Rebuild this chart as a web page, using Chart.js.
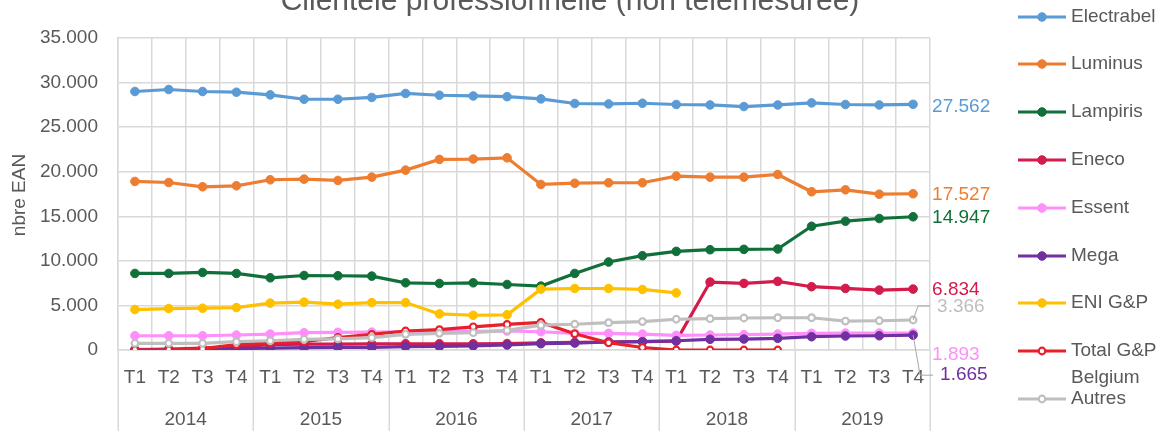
<!DOCTYPE html>
<html>
<head>
<meta charset="utf-8">
<script src="https://cdn.jsdelivr.net/npm/chart.js@4.4.0/dist/chart.umd.min.js"></script>
<style>
html, body { margin: 0; padding: 0; background: #fff; }
#wrap { position: relative; width: 1165px; height: 431px; }
</style>
</head>
<body>
<div id="wrap"><canvas id="chart"></canvas></div>
<script>
const chartTitle = 'Clientèle professionnelle (non télémesurée)';
const yTitle = 'nbre EAN';
const quarters = ['T1','T2','T3','T4','T1','T2','T3','T4','T1','T2','T3','T4',
                  'T1','T2','T3','T4','T1','T2','T3','T4','T1','T2','T3','T4'];
const years = ['2014','2015','2016','2017','2018','2019'];

const electrabel = [29000, 29220, 29000, 28920, 28620, 28130, 28130, 28330, 28780, 28580, 28500, 28420,
                    28170, 27650, 27600, 27680, 27540, 27490, 27310, 27490, 27720, 27540, 27490, 27562];
const luminus = [18910, 18790, 18310, 18420, 19100, 19170, 19020, 19390, 20180, 21380, 21420, 21560,
                 18570, 18710, 18760, 18760, 19500, 19390, 19390, 19690, 17750, 17970, 17480, 17527];
const lampiris = [8590, 8590, 8700, 8590, 8100, 8360, 8330, 8290, 7540, 7460, 7540, 7350,
                  7170, 8590, 9870, 10580, 11060, 11250, 11290, 11330, 13880, 14450, 14750, 14947];
const eneco = [50, 100, 200, 350, 600, 650, 650, 680, 700, 700, 700, 720,
               800, 850, 900, 950, 1000, 7620, 7470, 7700, 7100, 6910, 6720, 6834];
const essent = [1600, 1600, 1600, 1680, 1790, 1940, 1980, 2000, 2050, 2100, 2100, 2130,
                2050, 1870, 1870, 1790, 1640, 1680, 1720, 1790, 1870, 1900, 1900, 1893];
const mega = [0, 0, 50, 150, 220, 260, 300, 300, 370, 400, 450, 560,
              710, 780, 900, 930, 1040, 1200, 1230, 1310, 1490, 1570, 1600, 1665];
const eni = [4540, 4650, 4690, 4760, 5260, 5370, 5140, 5320, 5320, 4050, 3900, 3950,
             6830, 6900, 6900, 6790, 6410, null, null, null, null, null, null, null];
const totalGP = [0, 0, 150, 600, 800, 950, 1400, 1750, 2130, 2280, 2600, 2880,
                 3100, 1820, 820, 280, 0, 0, 0, 0, null, null, null, null];
const autres = [750, 750, 750, 930, 1040, 1200, 1250, 1380, 1760, 1870, 1940, 2200,
                2780, 2890, 3060, 3190, 3450, 3510, 3590, 3620, 3620, 3250, 3280, 3366];

const FONT = '"Liberation Sans", Arial, sans-serif';
const TEXT = '#595959';
const GRID = '#D9D9D9';

function fmt(v) {
    return String(Math.round(v)).replace(/\B(?=(\d{3})+(?!\d))/g, '.');
}

function series(label, data, color, hollow, idx) {
    return {
        label, data,
        borderColor: color,
        backgroundColor: hollow ? '#fff' : color,
        pointBackgroundColor: hollow ? '#fff' : color,
        pointBorderColor: color,
        pointRadius: hollow ? 3.3 : 4.3,
        pointBorderWidth: hollow ? 2.2 : 1,
        borderWidth: 3.2,
        tension: 0,
        order: 20 - idx
    };
}

const datasets = [
    series('Electrabel', electrabel, '#5B9BD5', false, 0),
    series('Luminus', luminus, '#ED7D31', false, 1),
    series('Lampiris', lampiris, '#11703A', false, 2),
    series('Eneco', eneco, '#D31B4C', false, 3),
    series('Essent', essent, '#FF8FFA', false, 4),
    series('Mega', mega, '#7030A0', false, 5),
    series('ENI G&P', eni, '#FFC000', false, 6),
    series('Total G&P Belgium', totalGP, '#E8202A', true, 7),
    series('Autres', autres, '#BFBFBF', true, 8)
];

// end-of-line value labels: dataset index, offsets, optional leader
const endLabels = [
    { ds: 0, dx: 19, dy: 2 },
    { ds: 1, dx: 19, dy: 1 },
    { ds: 2, dx: 19, dy: 1 },
    { ds: 3, dx: 19, dy: 1 },
    { ds: 8, dx: 24, dy: -13, leader: [[5, -14], [17, -14]] },
    { ds: 4, dx: 19, dy: 22 },
    { ds: 5, dx: 27, dy: 40, leader: [[7, 40], [20, 40]] }
];

const overlay = {
    id: 'overlay',
    afterDraw(chart) {
        const { ctx, chartArea: a, scales: { x, y } } = chart;
        const cw = (a.right - a.left) / quarters.length;
        ctx.save();

        // title (partly cut at top)
        ctx.fillStyle = TEXT;
        ctx.font = '30px ' + FONT;
        ctx.textAlign = 'center';
        ctx.textBaseline = 'alphabetic';
        ctx.fillText(chartTitle, 570, 10);

        // y axis title
        ctx.save();
        ctx.translate(20, 195);
        ctx.rotate(-Math.PI / 2);
        ctx.font = '19px ' + FONT;
        ctx.textBaseline = 'middle';
        ctx.fillText(yTitle, 0, 0);
        ctx.restore();

        // year group separators and labels
        ctx.strokeStyle = GRID;
        ctx.lineWidth = 1.5;
        for (let g = 0; g <= years.length; g++) {
            const gx = Math.round(a.left + g * 4 * cw) + 0.25;
            ctx.beginPath();
            ctx.moveTo(gx, a.bottom);
            ctx.lineTo(gx, chart.height);
            ctx.stroke();
        }
        ctx.font = '19px ' + FONT;
        ctx.textBaseline = 'middle';
        ctx.fillStyle = TEXT;
        years.forEach((yr, g) => {
            const cx = (x.getPixelForValue(g * 4) + x.getPixelForValue(g * 4 + 3)) / 2;
            ctx.fillText(yr, cx, 420);
        });

        // end labels
        ctx.textAlign = 'left';
        endLabels.forEach(l => {
            const ds = datasets[l.ds];
            const last = ds.data.length - 1;
            const px = x.getPixelForValue(last);
            const py = y.getPixelForValue(ds.data[last]);
            if (l.leader) {
                ctx.strokeStyle = '#A6A6A6';
                ctx.lineWidth = 1;
                ctx.beginPath();
                ctx.moveTo(px, py);
                l.leader.forEach(p => ctx.lineTo(px + p[0], py + p[1]));
                ctx.stroke();
            }
            ctx.fillStyle = ds.borderColor;
            ctx.fillText(fmt(ds.data[last]), px + l.dx, py + l.dy);
        });

        // legend
        const legendY = [17, 64, 112, 160, 208, 256, 303, 351, 399];
        datasets.forEach((ds, i) => {
            const ly = legendY[i];
            ctx.strokeStyle = ds.borderColor;
            ctx.lineWidth = 3.2;
            ctx.beginPath();
            ctx.moveTo(1018, ly);
            ctx.lineTo(1066, ly);
            ctx.stroke();
            ctx.beginPath();
            ctx.arc(1042, ly, ds.pointRadius, 0, Math.PI * 2);
            ctx.fillStyle = ds.pointBackgroundColor;
            ctx.fill();
            ctx.lineWidth = ds.pointBorderWidth;
            ctx.stroke();
            ctx.fillStyle = TEXT;
            if (ds.label === 'Total G&P Belgium') {
                ctx.fillText('Total G&P', 1071, ly);
                ctx.fillText('Belgium', 1071, ly + 27);
            } else {
                ctx.fillText(ds.label, 1071, ly);
            }
        });

        ctx.restore();
    }
};

new Chart(document.getElementById('chart'), {
    type: 'line',
    data: { labels: quarters, datasets },
    plugins: [overlay],
    options: {
        responsive: true,
        maintainAspectRatio: false,
        animation: false,
        layout: { padding: { top: 38, right: 235, bottom: 0, left: 0 } },
        plugins: {
            legend: { display: false },
            title: { display: false },
            tooltip: { enabled: false }
        },
        scales: {
            x: {
                offset: true,
                grid: { offset: true, color: GRID, lineWidth: 1.5, drawTicks: false },
                border: { color: GRID, width: 1.5 },
                ticks: { color: TEXT, font: { family: FONT, size: 19 }, padding: 16, maxRotation: 0, autoSkip: false },
                afterFit: s => { s.height = 81; }
            },
            y: {
                min: 0,
                max: 35000,
                grid: { color: GRID, lineWidth: 1.5, drawTicks: false },
                border: { color: GRID, width: 1.5 },
                ticks: { stepSize: 5000, color: TEXT, font: { family: FONT, size: 19 }, padding: 20, callback: v => fmt(v) },
                afterFit: s => { s.width = 118; }
            }
        }
    }
});
</script>
</body>
</html>
